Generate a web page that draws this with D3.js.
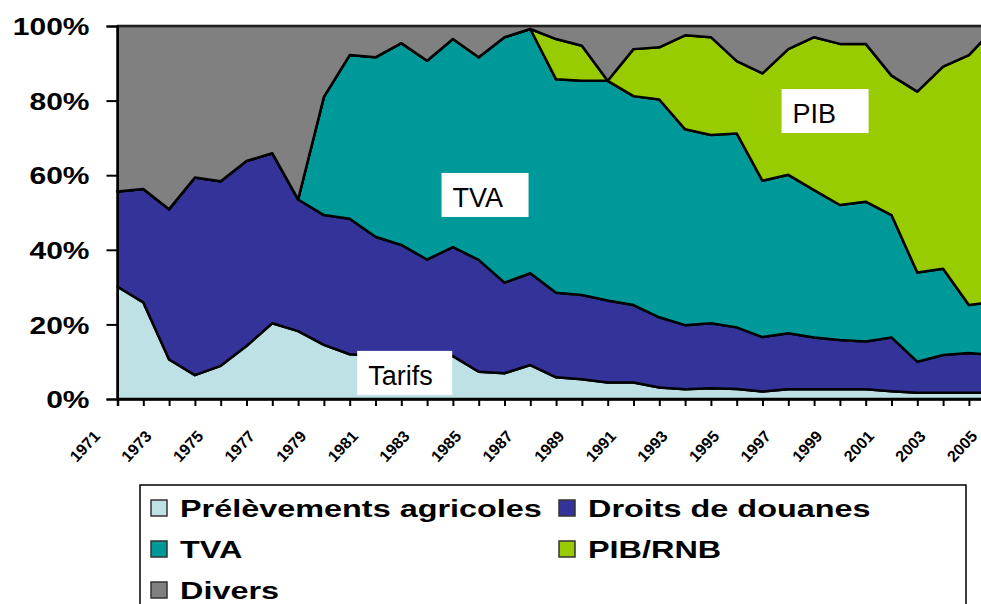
<!DOCTYPE html>
<html lang="fr">
<head>
<meta charset="UTF-8">
<title>Ressources propres 1971-2005</title>
<script src="https://d3js.org/d3.v7.min.js"></script>
<style>
  body { margin: 0; background: #fff; }
  svg { display: block; font-family: "Liberation Sans", Arial, sans-serif; }
</style>
</head>
<body>
<svg id="chart" width="981" height="604"></svg>
<script>
// years on the category axis
const years = [1971, 1972, 1973, 1974, 1975, 1976, 1977, 1978, 1979, 1980,
               1981, 1982, 1983, 1984, 1985, 1986, 1987, 1988, 1989, 1990,
               1991, 1992, 1993, 1994, 1995, 1996, 1997, 1998, 1999, 2000,
               2001, 2002, 2003, 2004, 2005];

// shares in %
const prelevements = [30.1, 25.9, 10.6, 6.4, 8.9, 14.2, 20.3, 18.2, 14.5, 12.0,
                      11.5, 10.5, 11.0, 11.5, 7.3, 6.9, 9.1, 5.8, 5.3, 4.4,
                      4.4, 3.1, 2.6, 2.9, 2.7, 2.0, 2.6, 2.6, 2.6, 2.6,
                      2.1, 1.7, 1.7, 1.7, 1.7];
const droits = [25.5, 30.4, 40.3, 53.0, 49.5, 49.6, 45.6, 35.3, 34.8, 36.3,
                32.0, 30.8, 26.4, 29.2, 30.0, 24.3, 24.6, 22.7, 22.6, 22.0,
                20.8, 18.8, 17.2, 17.4, 16.5, 14.6, 15.0, 13.9, 13.2, 12.8,
                14.4, 8.3, 10.1, 10.6, 10.1];
const tva = [0, 0, 0, 0, 0, 0, 0, 0, 31.7, 43.9,
             48.1, 54.1, 53.3, 55.8, 54.3, 65.8, 65.5, 57.2, 57.4, 58.9,
             56.0, 58.4, 52.5, 50.5, 52.0, 41.9, 42.5, 39.5, 36.2, 37.5,
             32.8, 23.9, 23.1, 12.9, 14.2];
const pib = [0, 0, 0, 0, 0, 0, 0, 0, 0, 0,
             0, 0, 0, 0, 0, 0, 0, 10.8, 9.4, 0,
             12.6, 14.0, 25.2, 26.2, 19.4, 28.8, 33.7, 41.0, 43.2, 42.3,
             37.4, 48.5, 54.2, 67.0, 73.5];
const divers = [44.4, 43.7, 49.1, 40.6, 41.6, 36.2, 34.1, 46.5, 19.0, 7.8,
                8.4, 4.6, 9.3, 3.5, 8.4, 3.0, 0.8, 3.5, 5.3, 14.7,
                6.2, 5.7, 2.5, 3.0, 9.4, 12.7, 6.2, 3.0, 4.8, 4.8,
                13.3, 17.6, 10.9, 7.8, 0.5];

const seriesKeys = ["prel", "droits", "tva", "pib", "divers"];
const seriesNames = ["Prélèvements agricoles", "Droits de douanes", "TVA", "PIB/RNB", "Divers"];
const seriesColors = ["#bde1e4", "#333399", "#009999", "#99cc00", "#808080"];

const yTickValues = [0, 20, 40, 60, 80, 100];
const xLabelYears = [1971, 1973, 1975, 1977, 1979, 1981, 1983, 1985, 1987, 1989,
                     1991, 1993, 1995, 1997, 1999, 2001, 2003, 2005];
const boxLabels = ["Tarifs", "TVA", "PIB"];

// table for d3.stack
const rows = years.map((y, i) => ({
  year: y, prel: prelevements[i], droits: droits[i], tva: tva[i], pib: pib[i], divers: divers[i]
}));

const svg = d3.select("#chart");
svg.append("rect").attr("width", 981).attr("height", 604).attr("fill", "#fff");

// plot runs past the right edge of the picture (cropped like the original)
const x = d3.scaleLinear().domain([1971, 2005]).range([117.5, 994.7]);
const y = d3.scaleLinear().domain([0, 100]).range([399, 26]);

const stacked = d3.stack().keys(seriesKeys)(rows);

const area = d3.area()
  .x(d => x(d.data.year))
  .y0(d => y(d[0]))
  .y1(d => y(d[1]));

svg.append("g").selectAll("path")
  .data(stacked).enter()
  .append("path")
    .attr("d", area)
    .attr("fill", (d, i) => seriesColors[i])
    .attr("stroke", "#000")
    .attr("stroke-width", 2.5)
    .attr("stroke-linejoin", "round");

// top border of the plot area
svg.append("line")
  .attr("x1", x(1971)).attr("x2", 981)
  .attr("y1", y(100)).attr("y2", y(100))
  .attr("stroke", "#222").attr("stroke-width", 2);

// y axis
const yAxis = d3.axisLeft(y).tickValues(yTickValues).tickSize(11).tickFormat(d => d + "%");
const yG = svg.append("g").attr("transform", `translate(${x(1971)},0)`).call(yAxis);
yG.select(".domain").attr("stroke", "#000").attr("stroke-width", 2);
yG.selectAll(".tick line").attr("stroke", "#000").attr("stroke-width", 2);
yG.selectAll(".tick text")
  .attr("x", 0).attr("dy", "0.36em")
  .attr("transform", "translate(-28,0) scale(1.25,1)")
  .attr("font-size", 24).attr("font-weight", "bold").attr("fill", "#000")
  .attr("font-family", "'Liberation Sans', Arial, sans-serif");

// x axis
const xAxis = d3.axisBottom(x).tickValues(years).tickSize(7)
  .tickFormat(d => xLabelYears.includes(d) ? d : "");
const xG = svg.append("g").attr("transform", `translate(0,${y(0)})`).call(xAxis);
xG.select(".domain").attr("stroke", "#000").attr("stroke-width", 2.5);
xG.selectAll(".tick line").attr("stroke", "#000").attr("stroke-width", 2);
xG.selectAll(".tick text")
  .attr("x", 0).attr("y", 0).attr("dy", 0)
  .attr("text-anchor", "end")
  .attr("transform", "translate(-17,38) rotate(-47)")
  .attr("font-size", 16).attr("font-weight", "bold").attr("fill", "#000")
  .attr("font-family", "'Liberation Sans', Arial, sans-serif");

// white label boxes inside the areas
const boxPos = [[1980.29, 12.9, 95], [1983.56, 60.6, 87], [1996.74, 83.1, 87]];
const boxes = svg.append("g").selectAll("g")
  .data(boxLabels).enter()
  .append("g")
    .attr("transform", (d, i) => `translate(${x(boxPos[i][0])},${y(boxPos[i][1])})`);
boxes.append("rect")
  .attr("width", (d, i) => boxPos[i][2]).attr("height", 44)
  .attr("fill", "#fff");
boxes.append("text")
  .attr("x", 11).attr("y", 34)
  .attr("font-size", 27).attr("fill", "#000")
  .text(d => d);

// legend
const legend = svg.append("g").attr("transform", "translate(140,485)");
legend.append("rect")
  .attr("width", 826).attr("height", 140)
  .attr("fill", "#fff").attr("stroke", "#000").attr("stroke-width", 1.5);

const legendCols = [0, 1, 0, 1, 0];
const legendRows = [0, 0, 1, 1, 2];
const items = legend.selectAll("g.item")
  .data(seriesNames).enter()
  .append("g").attr("class", "item")
  .attr("transform", (d, i) => `translate(${legendCols[i] * 408 + 11},${legendRows[i] * 41 + 23})`);
items.append("rect")
  .attr("x", 0).attr("y", -8).attr("width", 16).attr("height", 16)
  .attr("fill", (d, i) => seriesColors[i])
  .attr("stroke", "#333").attr("stroke-width", 1.5);
items.append("text")
  .attr("transform", "translate(29,0) scale(1.35,1)")
  .attr("dy", "0.36em")
  .attr("font-size", 24).attr("font-weight", "bold").attr("fill", "#000")
  .text(d => d);
</script>
</body>
</html>
